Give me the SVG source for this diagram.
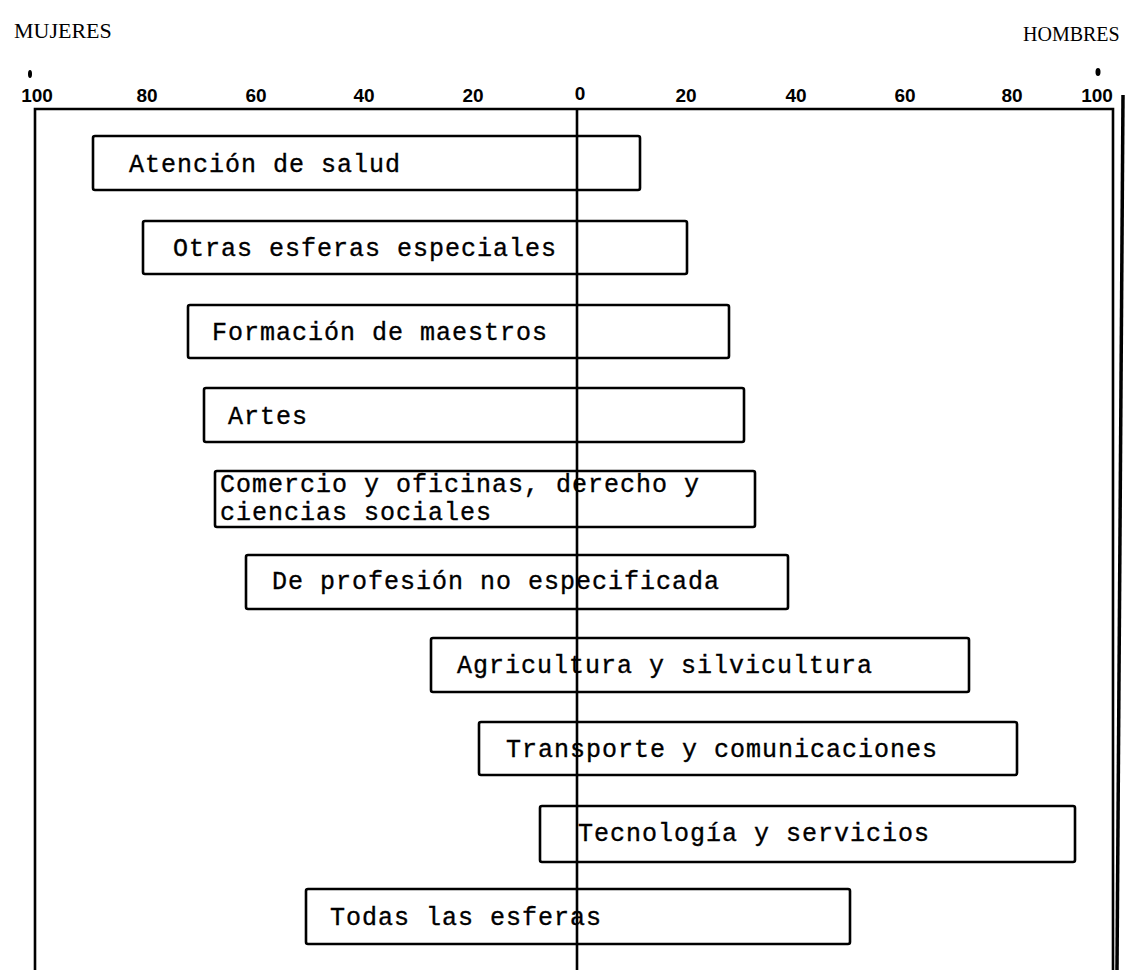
<svg xmlns="http://www.w3.org/2000/svg" width="1125" height="970" viewBox="0 0 1125 970">
<style>
.bar{fill:none;stroke:#000;stroke-width:2.6;stroke-linejoin:round}
.lbl{font-family:"Liberation Mono","DejaVu Sans Mono",monospace;font-size:25px;letter-spacing:1px;fill:#000;stroke:#000;stroke-width:0.35}
.tick{font-family:"Liberation Sans",Arial,sans-serif;font-size:19px;font-weight:bold;fill:#000;text-anchor:middle}
.hdr{font-family:"Liberation Serif","Times New Roman",serif;font-size:22px;fill:#000}
.ax{stroke:#000;stroke-width:2.6;fill:none}
</style>
<rect width="1125" height="970" fill="#fff"/>
<text class="hdr" x="14" y="38">MUJERES</text>
<text class="hdr" x="1023" y="41" style="font-size:20px">HOMBRES</text>
<g id="ticks">
<text class="tick" x="37" y="102">100</text>
<text class="tick" x="147" y="102">80</text>
<text class="tick" x="256" y="102">60</text>
<text class="tick" x="364" y="102">40</text>
<text class="tick" x="473" y="102">20</text>
<text class="tick" x="580" y="100">0</text>
<text class="tick" x="686" y="102">20</text>
<text class="tick" x="796" y="102">40</text>
<text class="tick" x="905" y="102">60</text>
<text class="tick" x="1012" y="102">80</text>
<text class="tick" x="1097" y="102">100</text>
<ellipse cx="30" cy="74" rx="2" ry="4" fill="#000"/>
<ellipse cx="1098" cy="72" rx="2.5" ry="4" fill="#000"/>
</g>
<g id="connectors">
<path class="ax" d="M35 970 V109 H1113 V970"/>
<line class="ax" x1="577" y1="109" x2="577" y2="970"/>
<line x1="1123" y1="95" x2="1117" y2="970" stroke="#000" stroke-width="3.5"/>
</g>
<g id="atencion"><rect class="bar" x="93" y="136" width="547" height="54" rx="2"/><text class="lbl" x="129" y="172">Atención de salud</text></g>
<g id="otras"><rect class="bar" x="143" y="221" width="544" height="53" rx="2"/><text class="lbl" x="173" y="256">Otras esferas especiales</text></g>
<g id="formacion"><rect class="bar" x="188" y="305" width="541" height="53" rx="2"/><text class="lbl" x="212" y="340">Formación de maestros</text></g>
<g id="artes"><rect class="bar" x="204" y="388" width="540" height="54" rx="2"/><text class="lbl" x="228" y="424">Artes</text></g>
<g id="comercio"><rect class="bar" x="215" y="471" width="540" height="56" rx="2"/><text class="lbl" x="220" y="492">Comercio y oficinas, derecho y</text><text class="lbl" x="220" y="520">ciencias sociales</text></g>
<g id="profesion"><rect class="bar" x="246" y="555" width="542" height="54" rx="2"/><text class="lbl" x="272" y="589">De profesión no especificada</text></g>
<g id="agricultura"><rect class="bar" x="431" y="638" width="538" height="54" rx="2"/><text class="lbl" x="457" y="673">Agricultura y silvicultura</text></g>
<g id="transporte"><rect class="bar" x="479" y="722" width="538" height="53" rx="2"/><text class="lbl" x="506" y="757">Transporte y comunicaciones</text></g>
<g id="tecnologia"><rect class="bar" x="540" y="806" width="535" height="56" rx="2"/><text class="lbl" x="578" y="841">Tecnología y servicios</text></g>
<g id="todas"><rect class="bar" x="306" y="889" width="544" height="55" rx="2"/><text class="lbl" x="330" y="925">Todas las esferas</text></g>
</svg>
